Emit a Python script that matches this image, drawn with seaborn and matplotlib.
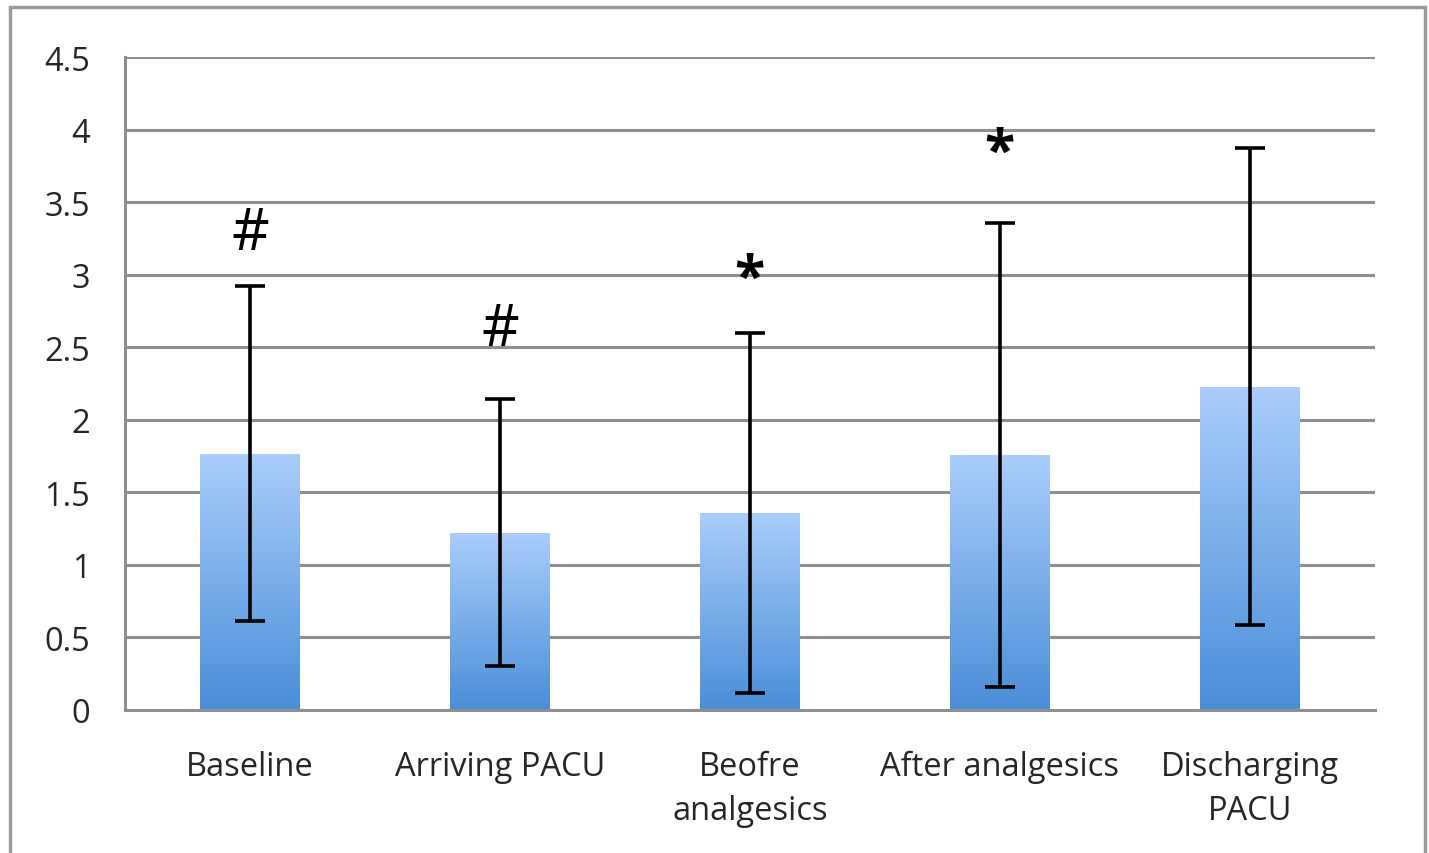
import numpy as np
import pandas as pd
import matplotlib
matplotlib.use("Agg")
import matplotlib.pyplot as plt
from matplotlib.patches import Rectangle
from matplotlib.colors import LinearSegmentedColormap
import seaborn as sns

# data
categories = ["Baseline", "Arriving PACU", "Beofre\nanalgesics", "After analgesics", "Discharging\nPACU"]
means = [1.765, 1.22, 1.36, 1.757, 2.228]
sds = [1.155, 0.92, 1.24, 1.60, 1.645]
marks = ["#", "#", "*", "*", ""]
mark_y = [3.28, 2.62, 2.97, 3.84, 0]

df = pd.DataFrame({"time": categories, "score": means})

sns.set_style("white")
plt.rcParams["font.family"] = ["Open Sans", "DejaVu Sans"]

fig = plt.figure(figsize=(14.29, 8.54), dpi=100)
ax = fig.add_axes([0.0875, 0.1675, 0.8745, 0.7645])

sns.barplot(data=df, x="time", y="score", ax=ax, width=0.4, color="#7aaee8", errorbar=None)

# gradient fill for each bar (light top -> darker bottom)
cmap = LinearSegmentedColormap.from_list("bluegrad", ["#4a8ed8", "#aacdfb"])
grad = np.linspace(0, 1, 256).reshape(-1, 1)
for p in ax.patches:
    x0, y0 = p.get_x(), p.get_y()
    w, h = p.get_width(), p.get_height()
    im = ax.imshow(grad, cmap=cmap, origin="lower", aspect="auto",
                   extent=[x0, x0 + w, y0, y0 + h], zorder=2)
    im.set_clip_path(p)
    p.set_facecolor("none")
    p.set_edgecolor("none")

ax.errorbar(range(len(categories)), means, yerr=sds, fmt="none", ecolor="black",
            elinewidth=2.6, capsize=11, capthick=2.6, zorder=4)

for i, (m, y) in enumerate(zip(marks, mark_y)):
    if m == "#":
        ax.text(i, y, m, ha="center", va="center", fontsize=42, color="black")
    elif m == "*":
        ax.text(i, y, m, ha="center", va="center", fontsize=40, color="black", fontweight="bold")

ax.set_xlim(-0.5, len(categories) - 0.5)
ax.set_ylim(0, 4.5)
ax.set_yticks(np.arange(0, 4.51, 0.5))
ax.set_yticklabels(["0", "0.5", "1", "1.5", "2", "2.5", "3", "3.5", "4", "4.5"])
ax.set_xlabel("")
ax.set_ylabel("")
ax.yaxis.grid(True, color="#8f8f8f", linewidth=2.2)
ax.set_axisbelow(True)

for s in ["top", "right"]:
    ax.spines[s].set_visible(False)
for s in ["left", "bottom"]:
    ax.spines[s].set_color("#8f8f8f")
    ax.spines[s].set_linewidth(2.2)

# category tick labels between boundary tick marks
ax.set_xticks(np.arange(-0.5, len(categories), 1.0))
ax.set_xticklabels([""] * (len(categories) + 1))
ax.set_xticks(range(len(categories)), minor=True)
ax.set_xticklabels(categories, minor=True, fontsize=23.5, linespacing=1.45)
ax.tick_params(axis="x", which="major", direction="out", length=9, width=2.2, color="#8f8f8f")
ax.tick_params(axis="x", which="minor", length=0, pad=29)
ax.tick_params(axis="y", direction="out", length=9, width=2.2, color="#8f8f8f", labelsize=23.5, pad=16)
for lab in ax.get_xticklabels(minor=True):
    lab.set_verticalalignment("top")

# outer grey frame
fig.patches.append(Rectangle((10 / 1429, -0.02), 1415 / 1429, 1.02 - 8 / 854,
                             transform=fig.transFigure, fill=False,
                             edgecolor="#9a9a9a", linewidth=2.5))

fig.savefig("out.png", dpi=100)
